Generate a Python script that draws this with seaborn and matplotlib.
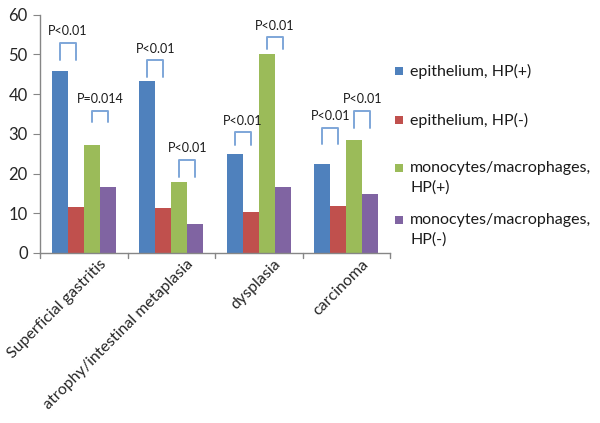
import matplotlib
matplotlib.use("Agg")
import matplotlib.pyplot as plt
from matplotlib.patches import Rectangle
from matplotlib.transforms import ScaledTranslation
import seaborn as sns
import pandas as pd

categories = ["Superficial gastritis", "atrophy/intestinal metaplasia", "dysplasia", "carcinoma"]
series = ["epithelium, HP(+)", "epithelium, HP(-)",
          "monocytes/macrophages, HP(+)", "monocytes/macrophages, HP(-)"]
legend_labels = ["epithelium, HP(+)", "epithelium, HP(-)",
                 "monocytes/macrophages,\nHP(+)", "monocytes/macrophages,\nHP(-)"]
epi_hp_pos = [45.9, 43.3, 24.9, 22.4]
epi_hp_neg = [11.6, 11.3, 10.3, 11.8]
mono_hp_pos = [27.2, 17.8, 50.1, 28.4]
mono_hp_neg = [16.7, 7.4, 16.6, 14.8]
values = [epi_hp_pos, epi_hp_neg, mono_hp_pos, mono_hp_neg]
colors = ["#4f81bd", "#c0504d", "#9bbb59", "#8064a2"]

# significance brackets: (category index, series a, series b, top, leg bottom, label, label y)
brackets = [
    (0, 0, 1, 52.9, 48.6, "P<0.01", 55.8),
    (0, 2, 3, 35.8, 33.0, "P=0.014", 38.8),
    (1, 0, 1, 48.6, 44.3, "P<0.01", 51.4),
    (1, 2, 3, 23.4, 19.1, "P<0.01", 26.4),
    (2, 0, 1, 30.5, 27.2, "P<0.01", 33.2),
    (2, 2, 3, 54.4, 51.4, "P<0.01", 57.2),
    (3, 0, 1, 31.5, 27.4, "P<0.01", 34.4),
    (3, 2, 3, 35.8, 31.5, "P<0.01", 38.8),
]

rows = []
for s, vals in zip(series, values):
    for c, v in zip(categories, vals):
        rows.append({"category": c, "series": s, "value": v})
df = pd.DataFrame(rows)

sns.set_style("white")
plt.rcParams["font.family"] = ["Lato", "DejaVu Sans"]

fig = plt.figure(figsize=(6.0, 4.23), dpi=100)
ax = fig.add_axes([0.067, 0.402, 0.583, 0.563])
sns.barplot(data=df, x="category", y="value", hue="series", order=categories,
            hue_order=series, palette=colors, width=0.73, saturation=1,
            edgecolor="none", legend=False, ax=ax)

ax.set_ylim(0, 60)
ax.set_xlim(-0.5, 3.5)
ax.set_yticks(range(0, 61, 10))
ax.set_xlabel("")
ax.set_ylabel("")
for sp in ["top", "right"]:
    ax.spines[sp].set_visible(False)
for sp in ["left", "bottom"]:
    ax.spines[sp].set_color("#868686")
    ax.spines[sp].set_linewidth(1.0)
ax.tick_params(axis="y", direction="out", length=5, color="#868686", labelsize=12, pad=4, left=True)
ax.set_xticks([0, 1, 2, 3])
ax.set_xticklabels(categories, rotation=45, ha="right", rotation_mode="anchor", fontsize=11.5)
ax.tick_params(axis="x", length=0, pad=6)
offset = ScaledTranslation(15 / 100, 4 / 100, fig.dpi_scale_trans)
for lbl in ax.get_xticklabels():
    lbl.set_transform(lbl.get_transform() + offset)
for xb in [-0.5, 0.5, 1.5, 2.5, 3.5]:
    ax.plot([xb, xb], [0, -1.2], color="#868686", lw=1.0, clip_on=False)

bcol = "#7ea6d8"
for ci, a, b, top, bot, lab, ly in brackets:
    pa = ax.containers[a][ci]
    pb = ax.containers[b][ci]
    xa = pa.get_x() + pa.get_width() / 2
    xb = pb.get_x() + pb.get_width() / 2
    ax.plot([xa, xa, xb, xb], [bot, top, top, bot], color=bcol, lw=1.4, clip_on=False)
    ax.text((xa + xb) / 2, ly, lab, ha="center", va="center", fontsize=9, color="#1a1a1a")

# legend drawn manually
leg_y = [71, 120, 168, 220]
for lab, col, yp in zip(legend_labels, colors, leg_y):
    yf = 1 - yp / 423
    fig.patches.append(Rectangle((395 / 600, yf - 4 / 423), 8 / 600, 8 / 423,
                                 transform=fig.transFigure, facecolor=col, edgecolor="none"))
    fig.text(410 / 600, yf + 7 / 423, lab, ha="left", va="top", fontsize=11.5,
             linespacing=1.45, color="#1a1a1a")

fig.savefig("out.png", dpi=100)
